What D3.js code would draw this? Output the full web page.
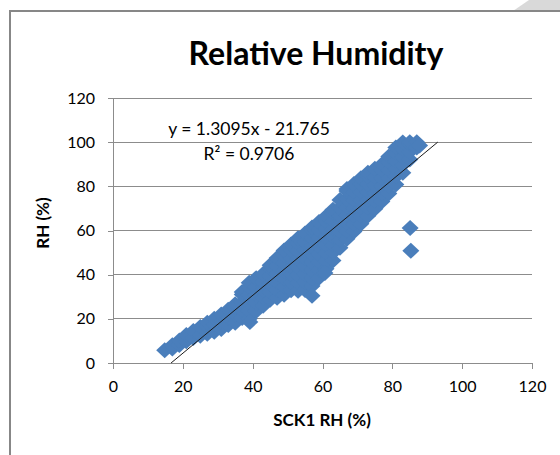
<!DOCTYPE html>
<html>
<head>
<meta charset="utf-8">
<script src="https://cdn.jsdelivr.net/npm/d3@7"></script>
<style>
  body { margin: 0; background: #fff; }
  svg text { font-family: Lato, "Open Sans", sans-serif; fill: #000; }
</style>
</head>
<body>
<script>
// tick labels on both axes
const xTicks = [0, 20, 40, 60, 80, 100, 120];
const yTicks = [0, 20, 40, 60, 80, 100, 120];

// SCK1 RH readings, grouped by x
const columnX = [14.8, 17, 19, 21, 23, 25, 27, 29, 31, 33, 35, 37, 39, 41, 43, 45, 47, 49, 51, 53,
                 55, 57, 59, 61, 63, 65, 67, 69, 71, 73, 75, 77, 79, 81, 83, 85, 87, 87.8];
const columnY = [
  [5.8],
  [6.6, 8.0],
  [8.2, 10.2],
  [9.8, 12.7],
  [11.3, 14.5],
  [12.3, 16.3],
  [13.2, 16.5, 18.2],
  [14.1, 17.5, 20.0],
  [15.4, 18.8, 22.0],
  [17.2, 20.6, 24.1],
  [18.2, 21.8, 25.4, 26.6],
  [20.4, 24.0, 27.6, 31.0, 32.2],
  [20.0, 23.6, 27.2, 30.8, 34.4, 36.3],
  [23.6, 27.2, 30.8, 34.4, 38.4],
  [25.9, 29.5, 33.1, 36.7, 40.3],
  [28.6, 32.2, 35.8, 39.4, 43.0, 44.3],
  [29.5, 33.1, 36.7, 40.3, 43.9, 47.5],
  [30.9, 34.5, 38.1, 41.7, 45.3, 48.9, 51.0],
  [32.9, 36.5, 40.1, 43.7, 47.3, 50.9, 53.7],
  [32.7, 36.3, 39.9, 43.5, 47.1, 50.7, 54.3, 56.5],
  [33.1, 36.7, 40.3, 43.9, 47.5, 51.1, 54.7, 58.6],
  [34.9, 38.5, 42.1, 45.7, 49.3, 52.9, 56.5, 60.1, 61.4],
  [38.6, 42.2, 45.8, 49.4, 53.0, 56.6, 60.2, 63.8],
  [42.7, 46.3, 49.9, 53.5, 57.1, 60.7, 64.3, 66.3],
  [46.4, 50.0, 53.6, 57.2, 60.8, 64.4, 68.0, 69.4],
  [52.2, 55.8, 59.4, 63.0, 66.6, 70.2, 73.8],
  [56.3, 59.9, 63.5, 67.1, 70.7, 74.3, 77.9, 78.8],
  [59.5, 63.1, 66.7, 70.3, 73.9, 77.5, 81.1],
  [63.1, 66.7, 70.3, 73.9, 77.5, 81.1, 83.7],
  [66.7, 70.3, 73.9, 77.5, 81.1, 84.7, 86.1],
  [69.9, 73.5, 77.1, 80.7, 84.3, 88.0],
  [73.1, 76.7, 80.3, 83.9, 87.5, 89.9],
  [76.7, 80.3, 83.9, 87.5, 91.1, 93.5],
  [80.8, 84.4, 88.0, 91.6, 95.2, 97.6],
  [86.2, 89.8, 93.4, 97.0, 99.9],
  [92.1, 95.7, 99.3, 100],
  [97.6, 100],
  [98.5]
];
// stray readings off the main band
const outlierX = [85.1, 85.3, 57.0, 60.7, 39.2];
const outlierY = [61.1, 50.8, 30.4, 40.8, 18.6];

// linear trendline from the chart
const slope = 1.3095;
const intercept = -21.765;
const trendX = [-intercept / slope, 93];

const W = 560, H = 455;
const svg = d3.select('body').append('svg')
              .attr('width', W)
              .attr('height', H)

// outer chart frame + page fold in the corner
svg.append('polygon')
   .attr('points', '513,11 529,0 560,0 560,11')
   .attr('fill', '#d9d9d9')
svg.append('rect')
   .attr('x', 10).attr('y', 11)
   .attr('width', 600).attr('height', 500)
   .attr('fill', 'none')
   .attr('stroke', '#878787')
   .attr('stroke-width', 2)

const x = d3.scaleLinear().domain([0, 120]).range([113, 532]);
const y = d3.scaleLinear().domain([0, 120]).range([363, 98]);

// gridlines
svg.append('g')
   .selectAll('line')
   .data(yTicks.filter(d => d > 0))
   .enter()
   .append('line')
   .attr('x1', x(0)).attr('x2', x(120))
   .attr('y1', d => y(d)).attr('y2', d => y(d))
   .attr('stroke', '#8c8c8c')
   .attr('stroke-width', 1)
   .attr('shape-rendering', 'crispEdges')

const xAxis = svg.append('g')
                 .attr('transform', `translate(0,${y(0)})`)
                 .call(d3.axisBottom(x).tickValues(xTicks).tickSize(6).tickPadding(12).tickSizeOuter(0))
const yAxis = svg.append('g')
                 .attr('transform', `translate(${x(0)},0)`)
                 .call(d3.axisLeft(y).tickValues(yTicks).tickSize(5).tickPadding(13).tickSizeOuter(0))
svg.selectAll('.domain, .tick line')
   .attr('stroke', '#8c8c8c')
   .attr('shape-rendering', 'crispEdges')
svg.selectAll('.tick text')
   .style('font-size', '16px')
   .style('font-family', 'Lato, sans-serif')
   .attr('fill', '#000')

// scatter points
const points = [];
columnX.forEach((cx, i) => columnY[i].forEach(cy => points.push([cx, cy])));
outlierX.forEach((ox, i) => points.push([ox, outlierY[i]]));

svg.append('g')
   .selectAll('path')
   .data(points)
   .enter()
   .append('path')
   .attr('d', 'M0,-8L8.5,0L0,8L-8.5,0Z')
   .attr('transform', d => `translate(${x(d[0])},${y(d[1])})`)
   .attr('fill', '#4a7ebb')

// trendline
svg.append('line')
   .attr('x1', x(trendX[0])).attr('y1', y(slope * trendX[0] + intercept))
   .attr('x2', x(trendX[1])).attr('y2', y(slope * trendX[1] + intercept))
   .attr('stroke', '#1a1a1a')
   .attr('stroke-width', 1)

// equation label
svg.append('text')
   .attr('x', 249).attr('y', 135)
   .attr('text-anchor', 'middle')
   .style('font-size', '17.5px')
   .text('y = 1.3095x - 21.765')
svg.append('text')
   .attr('x', 249).attr('y', 160)
   .attr('text-anchor', 'middle')
   .style('font-size', '17.5px')
   .text('R² = 0.9706')

// titles
svg.append('text')
   .attr('x', 316).attr('y', 65)
   .attr('text-anchor', 'middle')
   .style('font-size', '32px')
   .style('font-weight', 'bold')
   .text('Relative Humidity')
svg.append('text')
   .attr('x', 322).attr('y', 426)
   .attr('text-anchor', 'middle')
   .style('font-size', '17px')
   .style('font-weight', 'bold')
   .text('SCK1 RH (%)')
svg.append('text')
   .attr('transform', 'translate(49,223) rotate(-90)')
   .attr('text-anchor', 'middle')
   .style('font-size', '17px')
   .style('font-weight', 'bold')
   .text('RH (%)')
</script>
</body>
</html>
